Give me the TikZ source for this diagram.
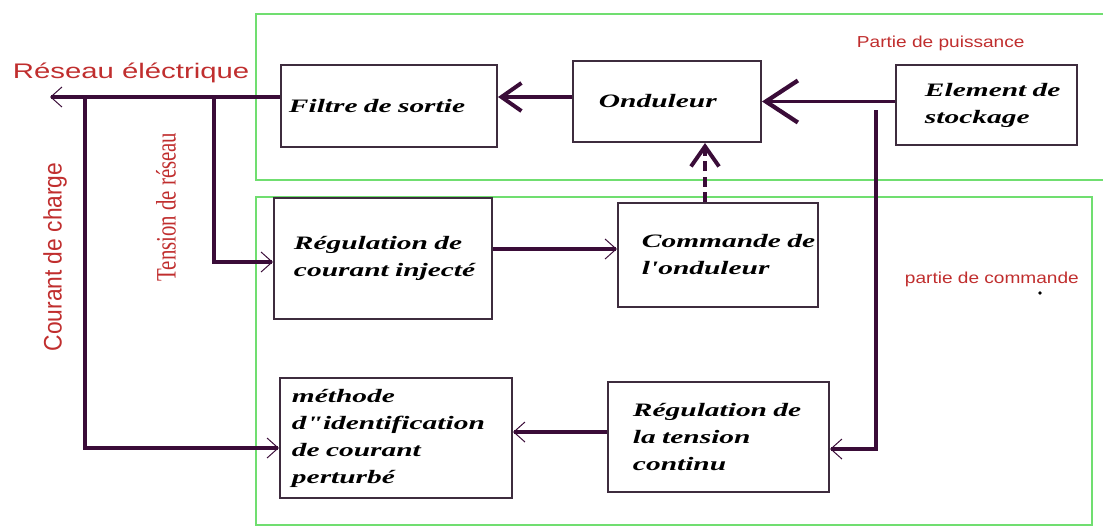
\documentclass[tikz,border=0pt]{standalone}
\usepackage{fontspec}
\usepackage{xcolor}
\usetikzlibrary{arrows.meta}
\setmainfont{Liberation Serif}
\newfontfamily\blocfont[FakeStretch=1.55]{Liberation Serif}
\newfontfamily\reseaufont[FakeStretch=1.39]{Liberation Sans}
\newfontfamily\partiefont[FakeStretch=1.2]{Liberation Sans}
\newfontfamily\courantfont[FakeStretch=0.9]{Liberation Sans}
\newfontfamily\tensionfont[FakeStretch=0.74]{Liberation Serif}
\definecolor{trait}{RGB}{58,12,56}
\definecolor{cadre}{RGB}{62,44,62}
\definecolor{rouge}{RGB}{192,46,46}
\definecolor{vert}{RGB}{112,222,112}

\begin{document}
\begin{tikzpicture}[x=0.025cm,y=-0.025cm,
        bloc/.style={draw=cadre,line width=1.4pt,inner sep=0pt,align=left,
            font=\blocfont\bfseries\itshape\fontsize{13.5}{19.2}\selectfont},
        zone/.style={draw=vert,line width=1.2pt},
        ligne/.style={draw=trait,line width=2.6pt},
        petite/.style={-{Straight Barb[length=2.8mm,width=5mm,line width=0.7pt]}},
        grande/.style={-{Straight Barb[length=5mm,width=7mm,line width=2.8pt]}},
        tresgrande/.style={-{Straight Barb[length=8mm,width=10.5mm,line width=3pt]}}]
        \useasboundingbox (0,0) rectangle (1103,528);
        % parties
        \draw[zone] (256,14) rectangle (1115,180);
        \draw[zone] (256,197) rectangle (1092,525);
        \node[text=rouge,anchor=base west,font=\partiefont\fontsize{11.3}{13}\selectfont](puiss) at (852,47) {Partie de puissance};
        \node[text=rouge,anchor=base west,font=\partiefont\fontsize{11.3}{13}\selectfont](comm) at (900,283) {partie de commande};
        \fill[black] (1040,293) circle (1.4pt);
        % blocs
        \node[bloc,minimum width=5.4cm,minimum height=2.05cm,text width=5cm](filtre) at (389,106) {Filtre de sortie};
        \node[bloc,minimum width=4.7cm,minimum height=2.025cm,text width=3.4cm](ond) at (667,101.5) {Onduleur};
        \node[bloc,minimum width=4.525cm,minimum height=2cm,text width=3.075cm](stock) at (986.5,105) {\mbox{Element de}\\stockage};
        \node[bloc,minimum width=5.45cm,minimum height=3.025cm,text width=4.45cm](regc) at (383,258.5) {\mbox{Régulation de}\\\mbox{courant injecté}};
        \node[bloc,minimum width=5cm,minimum height=2.6cm,text width=3.8cm](cmd) at (718,255) {\mbox{Commande de}\\l'onduleur};
        \node[bloc,minimum width=5.8cm,minimum height=3cm,text width=5.2cm](methode) at (396,438) {méthode\\d"identification\\de courant\\perturbé};
        \node[bloc,minimum width=5.525cm,minimum height=2.75cm,text width=4.275cm](regt) at (718.5,437) {\mbox{Régulation de}\\la tension\\continu};
        % mesures
        \node[text=rouge,anchor=base west,font=\reseaufont\fontsize{15}{17}\selectfont](res) at (8,78) {Réseau éléctrique};
        \node[text=rouge,rotate=90,font=\courantfont\fontsize{18}{20}\selectfont](cour) at (55,257) {Courant de charge};
        \node[text=rouge,rotate=90,font=\tensionfont\fontsize{20}{22}\selectfont](tens) at (166,207) {Tension de réseau};
        \coordinate(reseau) at (50,97);
        \coordinate(cc) at (85,448);
        \coordinate(tr) at (214,262);
        \coordinate(rail1) at (0,249);
        \coordinate(rail2) at (0,432);
        \coordinate(railv) at (705,0);
        \coordinate(cvh) at (876,110);
        \coordinate(cv) at (876,449);
        % liaisons
        \draw[ligne,petite](filtre.west |- reseau)--(reseau);
        \draw[ligne,grande](ond.west |- reseau)--(filtre.east |- reseau);
        \draw[ligne,tresgrande](stock.west |- ond.east)--(ond.east);
        \draw[ligne,petite](cc |- reseau)--(cc)--(methode.west |- cc);
        \draw[ligne,petite](tr |- reseau)--(tr)--(regc.west |- tr);
        \draw[ligne,petite](regc.east |- rail1)--(cmd.west |- rail1);
        \draw[ligne,grande,dash pattern=on 7pt off 4pt](railv |- cmd.north)--(railv |- ond.south);
        \draw[ligne,petite](cvh)--(cv)--(regt.east |- cv);
        \draw[ligne,petite](regt.west |- rail2)--(methode.east |- rail2);
\end{tikzpicture}
\end{document}
